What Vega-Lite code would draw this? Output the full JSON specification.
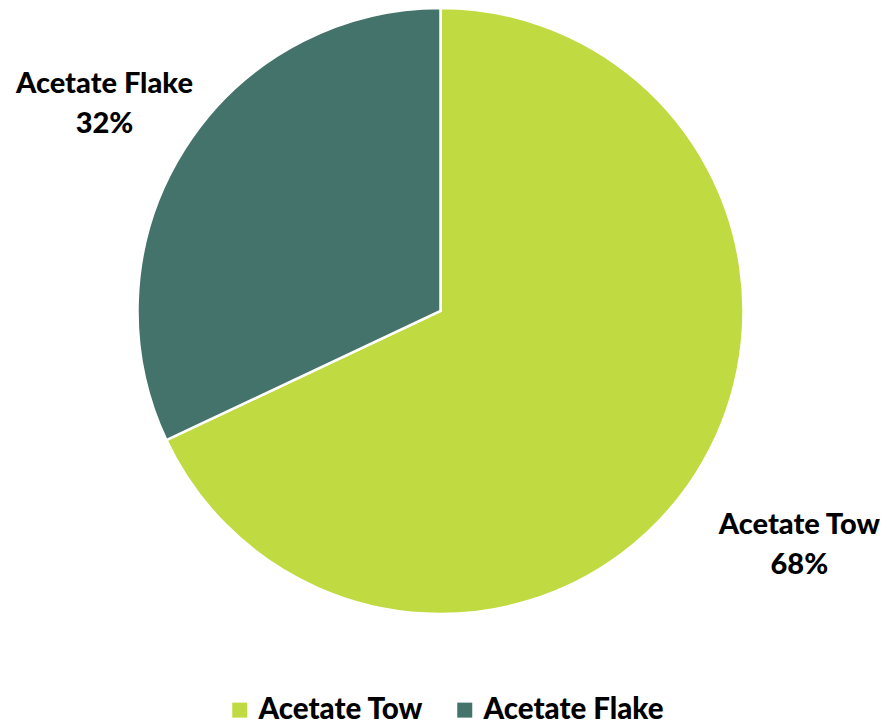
{
  "$schema": "https://vega.github.io/schema/vega-lite/v6.json",
  "width": 881,
  "height": 622,
  "padding": {"left": 0, "right": 0, "top": 0, "bottom": 104},
  "autosize": {"type": "none"},
  "background": "white",
  "config": {"view": {"stroke": null}},
  "data": {
    "values": [
      {"category": "Acetate Tow", "value": 68},
      {"category": "Acetate Flake", "value": 32}
    ]
  },
  "transform": [
    {"calculate": "[datum.category, format(datum.value, 'd') + '%']", "as": "label"}
  ],
  "encoding": {
    "theta": {"field": "value", "type": "quantitative", "stack": true},
    "order": {"field": "value", "sort": "descending"}
  },
  "layer": [
    {
      "mark": {"type": "arc", "outerRadius": 303, "stroke": "white", "strokeWidth": 2.5},
      "encoding": {
        "color": {
          "field": "category",
          "type": "nominal",
          "scale": {"domain": ["Acetate Tow", "Acetate Flake"], "range": ["#C0DA41", "#44736B"]},
          "legend": {
            "title": null,
            "orient": "none",
            "direction": "horizontal",
            "legendX": 225,
            "legendY": 695,
            "symbolType": "square",
            "symbolSize": 225,
            "symbolStrokeWidth": 0,
            "labelFont": "Lato",
            "labelFontSize": 29.5,
            "labelFontWeight": 900,
            "labelColor": "black",
            "labelOffset": 4,
            "columnPadding": 26,
            "labelLimit": 400
          }
        }
      }
    },
    {
      "mark": {"type": "text", "radius": 398, "dy": -14, "font": "Lato", "fontSize": 29, "fontWeight": 900, "color": "black", "lineHeight": 40, "align": "center", "baseline": "middle"},
      "encoding": {"text": {"condition": {"test": "datum.category == 'Acetate Flake'", "field": "label"}, "value": ""}}
    },
    {
      "mark": {"type": "text", "radius": 425, "dy": -14, "font": "Lato", "fontSize": 29, "fontWeight": 900, "color": "black", "lineHeight": 40, "align": "center", "baseline": "middle"},
      "encoding": {"text": {"condition": {"test": "datum.category == 'Acetate Tow'", "field": "label"}, "value": ""}}
    }
  ]
}
